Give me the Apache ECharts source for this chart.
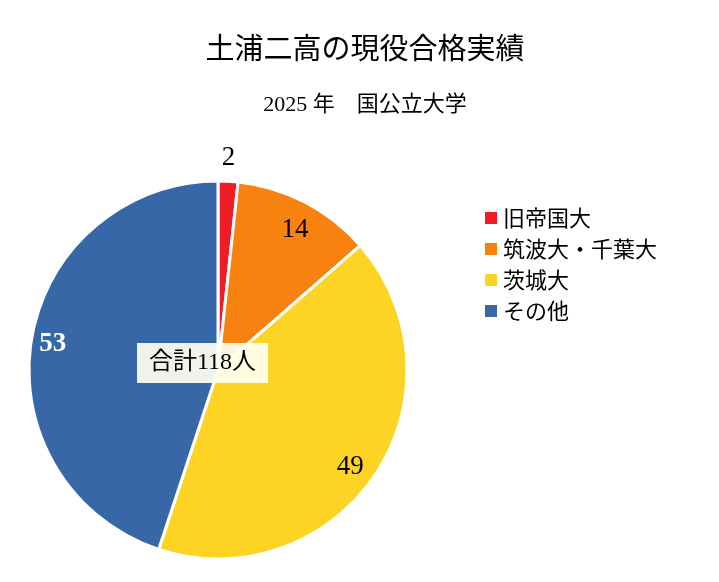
<!DOCTYPE html>
<html>
<head>
<meta charset="utf-8">
<script src="https://cdn.jsdelivr.net/npm/echarts@6/dist/echarts.min.js"></script>
<style>html,body{margin:0;padding:0;background:#fff}</style>
</head>
<body>
<div id="main" style="width:719px;height:582px"></div>
<script>
// 合格者数
const categories = ['旧帝国大', '筑波大・千葉大', '茨城大', 'その他']
const values = [2, 14, 49, 53]
const colors = ['#ee1c25', '#f7820f', '#fdd324', '#3767a6']
const total = values.reduce((a, b) => a + b, 0)

const labelStyles = [
	{ position: 'outside', color: '#000', fontSize: 27, distance: 8, offset: [-42, -8] },
	{ position: 'inside', color: '#000', fontSize: 27, offset: [32, -54] },
	{ position: 'inside', color: '#000', fontSize: 27, offset: [51, 43] },
	{ position: 'inside', color: '#fff', fontSize: 27, fontWeight: 'bold', offset: [-69, -10] }
]

const myChart = echarts.init(document.getElementById('main'))
const option = {
	title: {
		text: '土浦二高の現役合格実績',
		subtext: '2025 年　国公立大学',
		left: 360,
		textAlign: 'center',
		top: 28,
		itemGap: 32,
		textStyle: { fontFamily: 'Noto Sans CJK JP', fontWeight: 'normal', fontSize: 29, color: '#000' },
		subtextStyle: { fontFamily: 'Liberation Serif, Noto Sans CJK JP', fontSize: 22, color: '#000' }
	},
	legend: {
		orient: 'vertical',
		left: 478,
		top: 202,
		itemWidth: 14,
		itemHeight: 14,
		itemGap: 9,
		icon: 'rect',
		data: categories,
		textStyle: { fontFamily: 'Noto Sans CJK JP', fontSize: 22, color: '#000' }
	},
	color: colors,
	series: [{
		type: 'pie',
		center: [218, 370],
		radius: [0, 189],
		startAngle: 90,
		clockwise: true,
		labelLine: { show: false },
		itemStyle: { borderColor: '#fff', borderWidth: 3 },
		label: { fontFamily: 'Liberation Serif', formatter: '{c}' },
		data: values.map((v, i) => ({ name: categories[i], value: v, label: labelStyles[i] }))
	}],
	graphic: [{
		type: 'text',
		z: 100,
		zlevel: 1,
		left: 137,
		top: 343,
		style: {
			text: '合計' + total + '人',
			font: '24px "Liberation Serif", "Noto Sans CJK JP"',
			fill: '#000',
			backgroundColor: 'rgba(255,255,240,0.92)',
			padding: [8, 12]
		}
	}]
}
myChart.setOption(option)
</script>
</body>
</html>
